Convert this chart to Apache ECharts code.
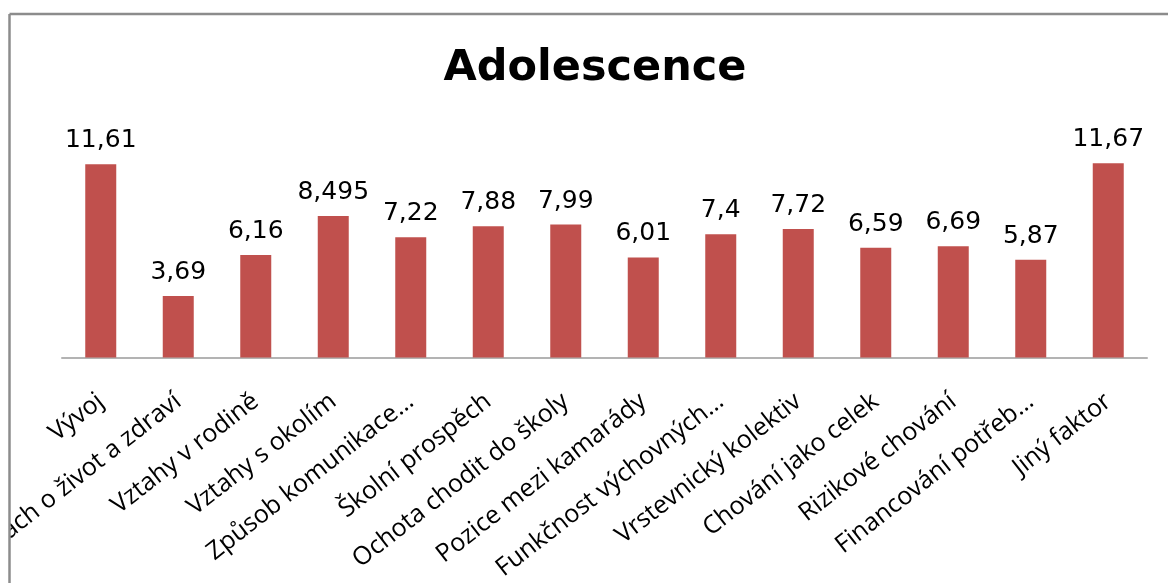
<!DOCTYPE html>
<html>
<head>
<meta charset="utf-8">
<title>Adolescence</title>
<script src="https://cdn.jsdelivr.net/npm/echarts@6/dist/echarts.min.js"></script>
<style>
  html, body { margin: 0; padding: 0; background: #fff; }
  #chart { width: 1168px; height: 583px; }
</style>
</head>
<body>
<div id="chart"></div>
<script>
const categories = [
  "Vývoj",
  "Strach o život a zdraví",
  "Vztahy v rodině",
  "Vztahy s okolím",
  "Způsob komunikace…",
  "Školní prospěch",
  "Ochota chodit do školy",
  "Pozice mezi kamarády",
  "Funkčnost výchovných…",
  "Vrstevnický kolektiv",
  "Chování jako celek",
  "Rizikové chování",
  "Financování potřeb…",
  "Jiný faktor"
];
const values = [11.61, 3.69, 6.16, 8.495, 7.22, 7.88, 7.99, 6.01, 7.4, 7.72, 6.59, 6.69, 5.87, 11.67];

const chart = echarts.init(document.getElementById("chart"));

chart.setOption({
  animation: false,
  title: {
    text: "Adolescence",
    left: 590,
    top: 42,
    textAlign: "center",
    textStyle: {
      fontFamily: "DejaVu Sans",
      fontWeight: "bold",
      fontSize: 43,
      color: "#000"
    }
  },
  grid: {
    left: 62,
    right: 21,
    top: 124.5,
    bottom: 225.5,
    containLabel: false,
    outerBoundsMode: "none"
  },
  xAxis: {
    type: "category",
    data: categories,
    axisLine: { lineStyle: { color: "#b3b3b3", width: 2 } },
    axisTick: { show: false },
    axisLabel: {
      interval: 0,
      rotate: 38,
      margin: 41,
      fontFamily: "Open Sans",
      fontSize: 25,
      color: "#000"
    }
  },
  yAxis: {
    type: "value",
    min: 0,
    max: 14,
    show: false
  },
  series: [
    {
      type: "bar",
      data: values,
      barWidth: "40%",
      itemStyle: { color: "#c0504d" },
      label: {
        show: true,
        position: "top",
        distance: 11,
        fontFamily: "DejaVu Sans",
        fontSize: 25,
        color: "#000",
        formatter: p => String(p.value).replace(".", ",")
      }
    }
  ],
  graphic: [
    // white strip so the frame clips the first label
    { type: "rect", z: 100, shape: { x: 0, y: 0, width: 9, height: 583 }, style: { fill: "#fff" } },
    { type: "rect", z: 100, shape: { x: 0, y: 0, width: 1168, height: 13 }, style: { fill: "#fff" } },
    { type: "line", z: 101, shape: { x1: 9.5, y1: 14, x2: 1168, y2: 14 }, style: { stroke: "#8c8c8c", lineWidth: 2.5 } },
    { type: "line", z: 101, shape: { x1: 9.5, y1: 14, x2: 9.5, y2: 583 }, style: { stroke: "#8c8c8c", lineWidth: 2.5 } }
  ]
});
</script>
</body>
</html>
